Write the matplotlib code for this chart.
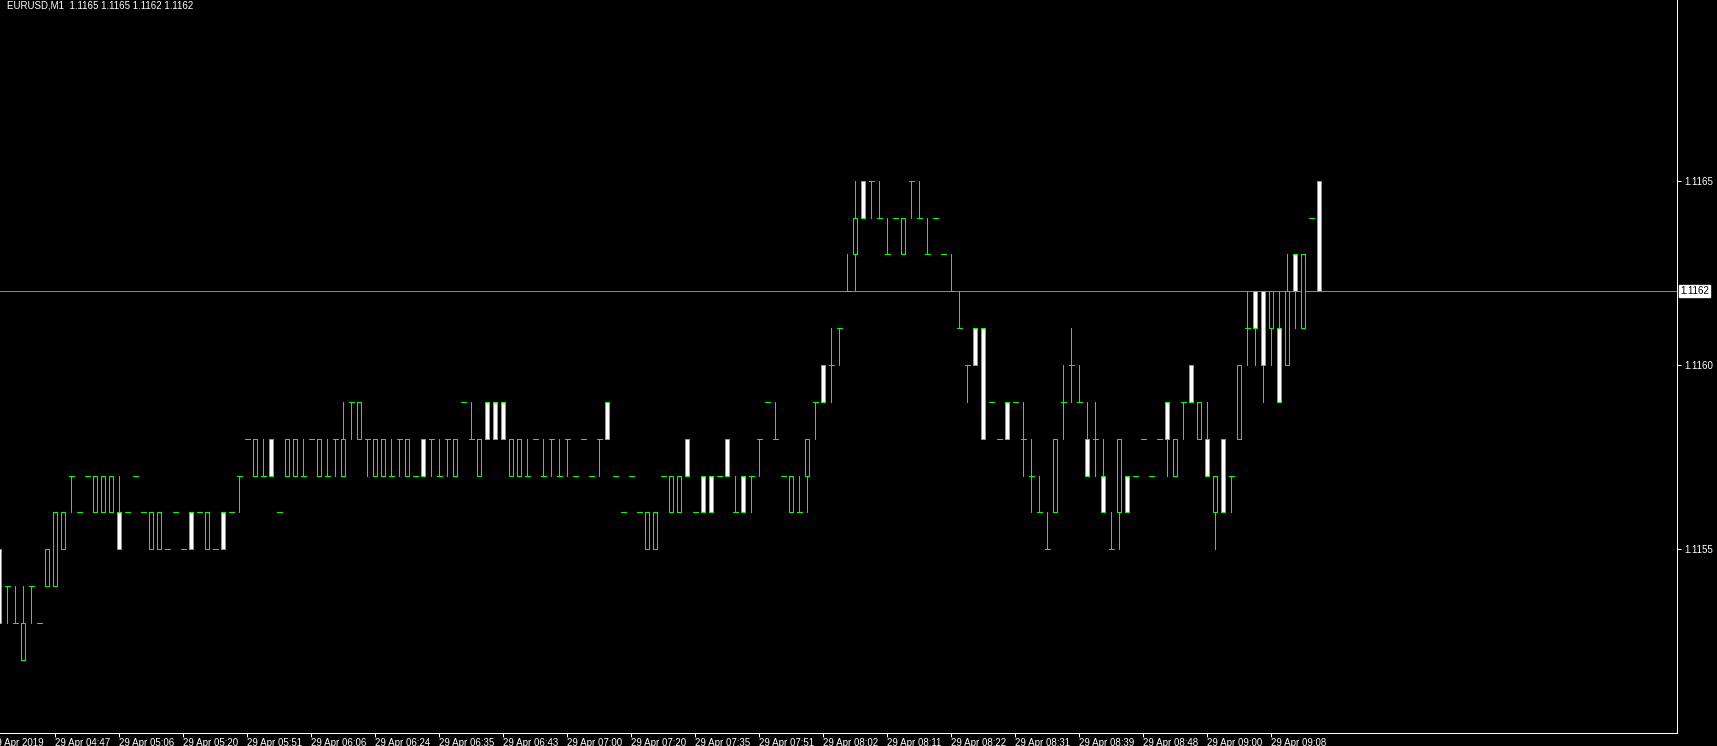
import matplotlib
matplotlib.use("Agg")
import matplotlib.pyplot as plt
from matplotlib.patches import Rectangle

plt.rcParams['font.family'] = ['Liberation Sans', 'DejaVu Sans']

# EURUSD M1 bars, prices in pips above 1.1150 (price = (11150 + n) / 10000)
opens = [5, 4, 3, 2, 4, 3, 4, 4, 5, 7, 6, 7, 6, 6, 6, 6, 6, 7, 6, 5,
         5, 5, 6, 5, 6, 6, 5, 5, 6, 6, 7, 8, 7, 7, 8, 6, 7, 7, 7, 8,
         7, 7, 8, 7, 9, 8, 8, 7, 7, 7, 8, 7, 7, 8, 8, 7, 8, 7, 9, 8,
         7, 9, 9, 9, 7, 7, 7, 8, 7, 8, 7, 8, 7, 8, 7, 8, 9, 7, 6, 7,
         6, 5, 5, 7, 6, 6, 8, 6, 7, 7, 7, 8, 6, 7, 7, 8, 9, 8, 7, 6,
         6, 7, 9, 10, 10, 11, 12, 13, 15, 15, 14, 13, 14, 13, 15, 14, 13, 14, 13, 12,
         11, 10, 11, 11, 9, 8, 9, 9, 8, 7, 6, 5, 6, 9, 10, 9, 8, 8, 7, 5,
         6, 7, 7, 8, 7, 8, 9, 7, 9, 10, 8, 8, 6, 8, 7, 8, 11, 12, 12, 11,
         11, 10, 13, 11, 14, 15]
highs = [5, 4, 4, 4, 4, 3, 5, 6, 6, 7, 6, 7, 7, 7, 7, 7, 6, 7, 6, 6,
         6, 5, 6, 5, 6, 6, 6, 5, 6, 6, 7, 8, 8, 8, 8, 6, 8, 8, 8, 8,
         8, 8, 8, 9, 9, 9, 8, 8, 8, 8, 8, 8, 7, 8, 8, 8, 8, 8, 9, 9,
         8, 9, 9, 9, 8, 8, 8, 8, 8, 8, 8, 8, 7, 8, 7, 8, 9, 7, 6, 7,
         6, 6, 6, 7, 7, 7, 8, 6, 7, 7, 7, 8, 7, 7, 7, 8, 9, 9, 7, 7,
         7, 8, 9, 10, 11, 11, 13, 15, 15, 15, 15, 14, 14, 14, 15, 15, 14, 14, 13, 13,
         12, 10, 11, 11, 9, 8, 9, 9, 9, 8, 7, 6, 8, 10, 11, 10, 9, 9, 8, 6,
         8, 7, 7, 8, 7, 8, 9, 8, 9, 10, 9, 9, 7, 8, 7, 10, 12, 12, 12, 12,
         12, 13, 13, 13, 14, 15]
lows = [3, 3, 3, 2, 3, 3, 4, 4, 5, 6, 6, 7, 6, 6, 6, 5, 6, 7, 6, 5,
        5, 5, 6, 5, 5, 6, 5, 5, 5, 6, 6, 8, 7, 7, 7, 6, 7, 7, 7, 8,
        7, 7, 7, 7, 8, 8, 7, 7, 7, 7, 7, 7, 7, 7, 7, 7, 7, 7, 9, 8,
        7, 8, 8, 8, 7, 7, 7, 8, 7, 7, 7, 7, 7, 8, 7, 7, 8, 7, 6, 7,
        6, 5, 5, 7, 6, 6, 7, 6, 6, 6, 7, 7, 6, 6, 6, 7, 9, 8, 7, 6,
        6, 6, 8, 9, 9, 10, 12, 12, 14, 14, 14, 13, 14, 13, 14, 14, 13, 14, 13, 12,
        11, 9, 10, 8, 9, 8, 8, 9, 7, 6, 6, 5, 6, 8, 9, 9, 7, 7, 6, 5,
        5, 6, 7, 8, 7, 8, 7, 7, 8, 9, 8, 7, 5, 6, 6, 8, 10, 10, 9, 10,
        9, 10, 11, 11, 14, 12]
closes = [3, 4, 3, 3, 4, 3, 5, 6, 6, 7, 6, 7, 7, 7, 7, 5, 6, 7, 6, 6,
          6, 5, 6, 5, 5, 6, 6, 5, 5, 6, 7, 8, 8, 7, 7, 6, 8, 8, 7, 8,
          8, 7, 8, 8, 9, 9, 8, 8, 8, 7, 8, 8, 7, 7, 8, 7, 8, 8, 9, 8,
          8, 8, 8, 8, 8, 8, 7, 8, 7, 8, 7, 8, 7, 8, 7, 8, 8, 7, 6, 7,
          6, 6, 6, 7, 7, 7, 7, 6, 6, 6, 7, 7, 6, 6, 7, 8, 9, 8, 7, 7,
          6, 8, 9, 9, 10, 11, 12, 14, 14, 15, 14, 13, 14, 14, 15, 14, 13, 14, 13, 12,
          11, 10, 10, 8, 9, 8, 8, 9, 8, 7, 6, 5, 8, 9, 10, 9, 7, 8, 6, 5,
          8, 6, 7, 8, 7, 8, 8, 8, 9, 9, 9, 7, 7, 6, 7, 10, 11, 11, 10, 12,
          9, 12, 12, 13, 14, 12]

BASE = 11150
symbol = "EURUSD,M1"
bid = 1.1162
price_ticks = [1.1155, 1.1160, 1.1165, 1.1170]
time_labels = ["29 Apr 2019", "29 Apr 04:47", "29 Apr 05:06", "29 Apr 05:20", "29 Apr 05:51",
               "29 Apr 06:06", "29 Apr 06:24", "29 Apr 06:35", "29 Apr 06:43", "29 Apr 07:00",
               "29 Apr 07:20", "29 Apr 07:35", "29 Apr 07:51", "29 Apr 08:02", "29 Apr 08:11",
               "29 Apr 08:22", "29 Apr 08:31", "29 Apr 08:39", "29 Apr 08:48", "29 Apr 09:00",
               "29 Apr 09:08"]
time_bars = list(range(-1, 160, 8))

def px(n):
    return (BASE + n) / 10000.0

LIME = "#00ff00"
W, H = 1717, 746
fig = plt.figure(figsize=(W / 100, H / 100), dpi=100, facecolor="black")
ax = fig.add_axes([0, 13 / H, 1677 / W, 733 / H], facecolor="black")

lw = 0.72
for k in range(len(opens)):
    o, h, l, c = px(opens[k]), px(highs[k]), px(lows[k]), px(closes[k])
    if h > l:
        ax.vlines(k, l, h, color=LIME, lw=lw, zorder=2, antialiased=False)
    if opens[k] == closes[k]:
        ax.hlines(o, k - 0.29, k + 0.29, color=LIME, lw=lw, zorder=3, antialiased=False)
    else:
        fc = "black" if c > o else "white"
        ax.add_patch(Rectangle((k - 0.25, min(o, c)), 0.5, abs(c - o), facecolor=fc,
                               edgecolor=LIME, lw=lw, zorder=3, antialiased=False))

# bid line
ax.axhline(bid, color="#778899", lw=lw, zorder=1)

for s in ["top", "left"]:
    ax.spines[s].set_visible(False)
for s in ["right", "bottom"]:
    ax.spines[s].set_color("white")
    ax.spines[s].set_linewidth(lw)

ax.yaxis.tick_right()
ax.set_yticks(price_ticks[:-1])
ax.set_yticklabels([f"{p:.4f}" for p in price_ticks[:-1]])
ax.tick_params(axis="y", direction="out", length=3, width=lw, colors="white",
               labelsize=7, pad=2)
ax.set_xticks(time_bars[1:])
ax.set_xticklabels(time_labels[1:], ha="left")
ax.tick_params(axis="x", direction="out", length=3, width=lw, colors="white",
               labelsize=7, pad=0.5)

# limits after ticks so the ticks do not widen the view
ax.set_xlim(0.0875, 0.0875 + 1677 / 8)
ax.set_ylim(px(0.014), px(19.905))

# labels that sit just outside the visible range (cut by the figure edge)
ax.annotate(time_labels[0], xy=(time_bars[0], 0), xycoords=("data", "axes fraction"),
            xytext=(0, -4.5), textcoords="offset pixels", ha="left", va="top",
            fontsize=7, color="white", annotation_clip=False)
ax.annotate(f"{price_ticks[-1]:.4f}", xy=(1, price_ticks[-1]),
            xycoords=("axes fraction", "data"), xytext=(6, 0),
            textcoords="offset pixels", ha="left", va="center",
            fontsize=7, color="white", annotation_clip=False)

ax.annotate(f"{bid:.4f}", xy=(1, bid), xycoords=("axes fraction", "data"),
            xytext=(3, 0), textcoords="offset pixels", ha="left", va="center",
            fontsize=7, color="black",
            bbox=dict(boxstyle="square,pad=0.12", fc="white", ec="white"))

head = f"{symbol}  " + " ".join(f"{px(v):.4f}" for v in
                                 [opens[-1], highs[-1], lows[-1], closes[-1]])
fig.text(7 / W, 1 - 1 / H, head, color="white", fontsize=7, ha="left", va="top")

fig.savefig("out.png", dpi=100, facecolor="black")
